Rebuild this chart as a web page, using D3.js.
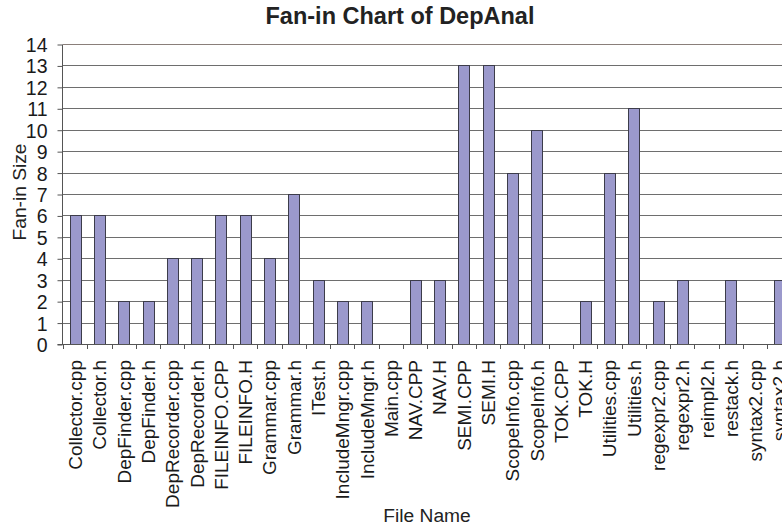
<!DOCTYPE html>
<html>
<head>
<meta charset="utf-8">
<script src="https://cdn.jsdelivr.net/npm/d3@7"></script>
<style>
  html, body { margin: 0; padding: 0; background: #fff; overflow: hidden; }
  svg { display: block; font-family: "Liberation Sans", Arial, sans-serif; }
</style>
</head>
<body>
<svg id="chart" width="782" height="529"></svg>
<script>
// file names along the x axis
const fileNames = [
  "Collector.cpp", "Collector.h", "DepFinder.cpp", "DepFinder.h",
  "DepRecorder.cpp", "DepRecorder.h", "FILEINFO.CPP", "FILEINFO.H",
  "Grammar.cpp", "Grammar.h", "ITest.h", "IncludeMngr.cpp", "IncludeMngr.h",
  "Main.cpp", "NAV.CPP", "NAV.H", "SEMI.CPP", "SEMI.H", "ScopeInfo.cpp",
  "ScopeInfo.h", "TOK.CPP", "TOK.H", "Utilities.cpp", "Utilities.h",
  "regexpr2.cpp", "regexpr2.h", "reimpl2.h", "restack.h", "syntax2.cpp", "syntax2.h"
];
// fan-in size per file
const fanIn = [
  6, 6, 2, 2, 4, 4, 6, 6, 4, 7, 3, 2, 2, 0, 3, 3, 13, 13, 8,
  10, 0, 2, 8, 11, 2, 3, 0, 3, 0, 3
];
const yTicks = d3.range(0, 15);

const svg = d3.select("#chart");

// plot box - it runs past the right edge of the window, like the original
const plotL = 63, plotR = 791.5, plotT = 44, plotB = 344;

const x = d3.scaleBand().domain(fileNames).range([plotL, plotR]).padding(0);
const y = d3.scaleLinear().domain([0, 14]).range([plotB, plotT]);
const barW = x.bandwidth() * 0.44;

// horizontal grid lines
svg.append("g").selectAll("line")
  .data(yTicks.filter(d => d > 0))
  .join("line")
    .attr("x1", plotL).attr("x2", plotR)
    .attr("y1", d => Math.round(y(d)) + 0.5)
    .attr("y2", d => Math.round(y(d)) + 0.5)
    .attr("stroke", d => d == 14 ? "#8a7f7a" : "#6e6e6e")
    .attr("stroke-width", 1);

// bars
svg.append("g").selectAll("rect")
  .data(fileNames.map((f, i) => ({name: f, value: fanIn[i]})).filter(d => d.value > 0))
  .join("rect")
    .attr("x", d => Math.round(x(d.name) + x.bandwidth() / 2 - barW / 2) + 0.5)
    .attr("y", d => Math.round(y(d.value)) + 0.5)
    .attr("width", Math.round(barW))
    .attr("height", d => Math.round(y(0)) - Math.round(y(d.value)))
    .attr("fill", "#9b99cc")
    .attr("stroke", "#3c3c4a")
    .attr("stroke-width", 1);

// y axis
const yAxis = svg.append("g")
  .attr("transform", `translate(${plotL - 0.5},0.5)`)
  .call(d3.axisLeft(y).tickValues(yTicks).tickSize(5).tickPadding(6).tickFormat(d3.format("d")));
yAxis.select(".domain").attr("stroke", "#555").attr("d", `M-5,${y(0)}H0V${y(14)}`);
yAxis.selectAll(".tick line").attr("stroke", "#555");
yAxis.selectAll(".tick text").attr("font-size", 19.5).attr("fill", "#1a1a1a")
  .attr("font-family", "Liberation Sans, Arial, sans-serif").attr("dx", "-4").attr("dy", "0.36em");

// x axis line with ticks at the band edges
const xAxis = svg.append("g");
xAxis.append("line")
  .attr("x1", plotL - 5).attr("x2", plotR)
  .attr("y1", Math.round(y(0)) + 0.5).attr("y2", Math.round(y(0)) + 0.5)
  .attr("stroke", "#555");
xAxis.selectAll(".xt")
  .data(fileNames)
  .join("line")
    .attr("class", "xt")
    .attr("x1", d => Math.round(x(d)) + 0.5).attr("x2", d => Math.round(x(d)) + 0.5)
    .attr("y1", Math.round(y(0))).attr("y2", Math.round(y(0)) + 5)
    .attr("stroke", "#555");

// rotated file names
xAxis.selectAll(".xl")
  .data(fileNames)
  .join("text")
    .attr("class", "xl")
    .attr("transform", d => `translate(${x(d) + x.bandwidth() / 2 + 7},${plotB + 16}) rotate(-90)`)
    .attr("text-anchor", "end")
    .attr("font-size", 19)
    .attr("fill", "#1a1a1a")
    .text(d => d);

// title and axis titles
svg.append("text")
  .attr("x", 400).attr("y", 24)
  .attr("text-anchor", "middle")
  .attr("font-size", 23.5).attr("font-weight", "bold").attr("fill", "#222")
  .text("Fan-in Chart of DepAnal");

svg.append("text")
  .attr("transform", "translate(26,192) rotate(-90)")
  .attr("text-anchor", "middle")
  .attr("font-size", 19.2).attr("fill", "#222")
  .text("Fan-in Size");

svg.append("text")
  .attr("x", 427).attr("y", 522)
  .attr("text-anchor", "middle")
  .attr("font-size", 19.2).attr("fill", "#222")
  .text("File Name");
</script>
</body>
</html>
